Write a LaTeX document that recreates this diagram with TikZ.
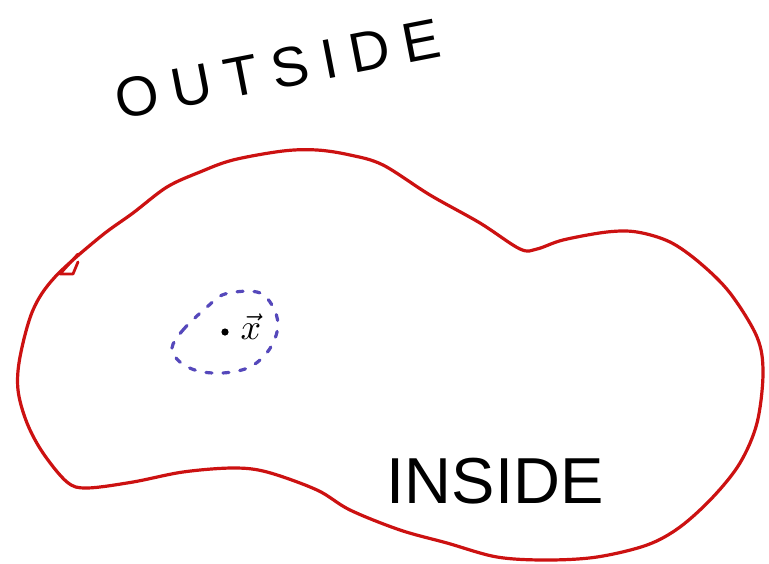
\documentclass[tikz,border=0pt]{standalone}
\usepackage{fontspec}
\setmainfont{Liberation Sans}
\definecolor{boundary}{HTML}{CC1111}
\definecolor{nbhd}{HTML}{5548BB}
\tikzset{
  boundaryline/.style={draw=boundary, line width=3.2pt, line join=round, line cap=round},
  nbhdline/.style={draw=nbhd, line width=3.2pt, line cap=round, dash pattern=on 6pt off 11pt},
  handtext/.style={inner sep=0pt, text=black},
}
\begin{document}
\begin{tikzpicture}[x=1pt,y=-1pt]
\useasboundingbox (0,0) rectangle (769,563);
\fill[white] (0,0) rectangle (769,563);
% red boundary
\draw[boundaryline] plot[smooth cycle, tension=0.55] coordinates {
 (20,357) (33,310) (55,277) (100,237) (133,213) (167,187) (200,172) (233,160)
 (283,151) (317,150) (350,155) (383,165) (430,195) (480,223) (520,249) (537,249)
 (563,240) (607,232) (637,232) (670,242) (700,263) (730,293) (757,337) (763,373)
 (757,423) (740,463) (713,497) (680,527) (647,545) (597,557) (547,560) (497,557)
 (447,543) (400,530) (350,510) (317,490) (267,472) (233,468) (183,472) (133,482)
 (87,488) (67,482) (43,453) (27,423) (18,390)};
% small hook at the start of the stroke
\coordinate (h1) at (78,254);
\coordinate (h2) at (60,274);
\coordinate (h3) at (73,274);
\coordinate (h4) at (78,262);
\draw[boundaryline, line width=2.8pt] (h1) -- (h2) -- (h3) -- (h4);
% blue dashed neighbourhood
\draw[nbhdline] plot[smooth cycle, tension=0.6] coordinates {
 (172,348) (183,330) (207,307) (225,294) (257,292) (272,305) (278,325) (272,345)
 (260,360) (245,369) (222,373) (198,371) (180,362)};
% point and its label
\fill[black] (225,332) circle (3.6pt);
\node[handtext, scale=3.6] (xlabel) at (251,327) {$\vec{x}$};
% labels
\node[handtext, rotate=11] (outside) at (278,69)
  {\fontsize{56}{56}\selectfont\addfontfeature{LetterSpace=24}OUTSIDE};
\node[handtext] (inside) at (495,481)
  {\fontsize{65}{65}\selectfont INSIDE};
\end{tikzpicture}
\end{document}
